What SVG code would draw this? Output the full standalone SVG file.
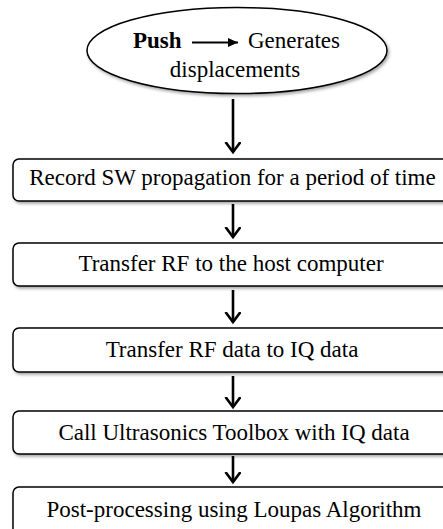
<svg xmlns="http://www.w3.org/2000/svg" width="443" height="529" viewBox="0 0 443 529">
  <defs>
    <filter id="shadow" x="-5%" y="-10%" width="115%" height="130%">
      <feDropShadow dx="1.5" dy="2" stdDeviation="1.5" flood-color="#000" flood-opacity="0.35"/>
    </filter>
    <marker id="vhead" markerUnits="userSpaceOnUse" markerWidth="14" markerHeight="18" refX="10" refY="8" orient="auto">
      <path d="M0,0.5 L10,8 L0,15.5" fill="none" stroke="#000" stroke-width="2.6" stroke-linejoin="miter"/>
    </marker>
    <marker id="fhead" markerUnits="userSpaceOnUse" markerWidth="12" markerHeight="10" refX="10" refY="4.5" orient="auto">
      <path d="M0,0 L10,4.5 L0,9 Z" fill="#000"/>
    </marker>
  </defs>
  <style>
    .box { fill: #fff; stroke: #000; stroke-width: 1.5; filter: url(#shadow); }
    .lbl { font-family: "Liberation Serif", "Times New Roman", serif; font-size: 23px; fill: #000; }
    .mid { text-anchor: middle; }
    .conn { stroke: #000; stroke-width: 2.6; fill: none; }
  </style>
  <rect width="443" height="529" fill="#fff"/>

  <g id="connectors">
    <line class="conn" x1="233" y1="99" x2="233" y2="152" marker-end="url(#vhead)"/>
    <line class="conn" x1="233" y1="204" x2="233" y2="237" marker-end="url(#vhead)"/>
    <line class="conn" x1="233" y1="290" x2="233" y2="322" marker-end="url(#vhead)"/>
    <line class="conn" x1="233" y1="376" x2="233" y2="407" marker-end="url(#vhead)"/>
    <line class="conn" x1="233" y1="456" x2="233" y2="482" marker-end="url(#vhead)"/>
  </g>

  <g id="node-push">
    <ellipse class="box" cx="237" cy="50.5" rx="150" ry="43"/>
    <text class="lbl" x="133" y="48" font-weight="bold">Push</text>
    <line x1="192" y1="42.5" x2="238" y2="42.5" stroke="#000" stroke-width="2.2" marker-end="url(#fhead)"/>
    <text class="lbl" x="248" y="48">Generates</text>
    <text class="lbl mid" x="235" y="77">displacements</text>
  </g>

  <g id="node-record">
    <rect class="box" x="13" y="159" width="445" height="42" rx="6"/>
    <text class="lbl mid" x="232.5" y="185">Record SW propagation for a period of time</text>
  </g>

  <g id="node-transfer-rf">
    <rect class="box" x="13" y="243" width="445" height="43" rx="6"/>
    <text class="lbl mid" x="231" y="271">Transfer RF to the host computer</text>
  </g>

  <g id="node-rf-iq">
    <rect class="box" x="13" y="328" width="445" height="44" rx="6"/>
    <text class="lbl mid" x="232" y="357">Transfer RF data to IQ data</text>
  </g>

  <g id="node-toolbox">
    <rect class="box" x="13" y="411" width="445" height="43" rx="6"/>
    <text class="lbl mid" x="234" y="440">Call Ultrasonics Toolbox with IQ data</text>
  </g>

  <g id="node-loupas">
    <rect class="box" x="13" y="487" width="445" height="60" rx="6"/>
    <text class="lbl mid" x="234" y="517">Post-processing using Loupas Algorithm</text>
  </g>
</svg>
